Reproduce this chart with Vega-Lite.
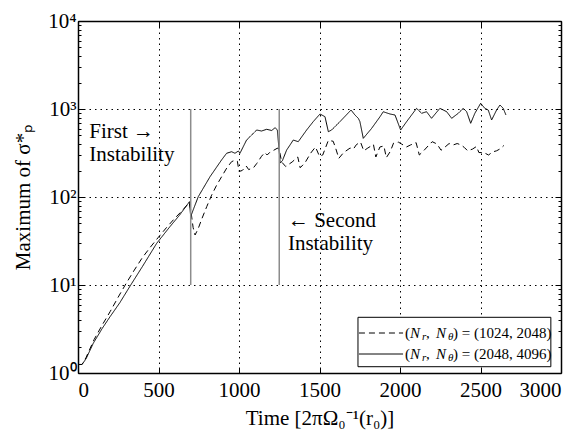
{
  "$schema": "https://vega.github.io/schema/vega-lite/v6.json",
  "width": 483,
  "height": 352,
  "autosize": {"type": "none"},
  "padding": {"left": 78, "top": 21, "right": 26, "bottom": 59},
  "background": "white",
  "config": {
    "font": "Liberation Serif",
    "view": {"stroke": null},
    "axis": {
      "labelFont": "Liberation Serif",
      "titleFont": "Liberation Serif",
      "labelColor": "black",
      "titleColor": "black",
      "titleFontWeight": "normal",
      "domainColor": "black",
      "domainWidth": 1.5,
      "tickColor": "black",
      "tickWidth": 1,
      "labelFontSize": 21,
      "titleFontSize": 21
    }
  },
  "datasets": {
    "series": [
      {"s":"fine","x":0,"y":1.25},{"s":"fine","x":25,"y":1.25},{"s":"fine","x":50,"y":1.45},{"s":"fine","x":95,"y":2.18},{"s":"fine","x":150,"y":3.2},{"s":"fine","x":199,"y":4.36},{"s":"fine","x":260,"y":6.3},{"s":"fine","x":323,"y":9.7},{"s":"fine","x":400,"y":16.2},{"s":"fine","x":489,"y":29.8},{"s":"fine","x":571,"y":46},{"s":"fine","x":630,"y":62},{"s":"fine","x":685,"y":84.8},{"s":"fine","x":692,"y":88.5},{"s":"fine","x":700,"y":60},{"s":"fine","x":720,"y":75},{"s":"fine","x":747,"y":100.8},{"s":"fine","x":820,"y":170},{"s":"fine","x":892,"y":264},{"s":"fine","x":923,"y":314},{"s":"fine","x":954,"y":327},{"s":"fine","x":975,"y":314},{"s":"fine","x":996,"y":333},{"s":"fine","x":1006,"y":314},{"s":"fine","x":1047,"y":444},{"s":"fine","x":1110,"y":577},{"s":"fine","x":1140,"y":562},{"s":"fine","x":1172,"y":588},{"s":"fine","x":1203,"y":570},{"s":"fine","x":1224,"y":613},{"s":"fine","x":1238,"y":580},{"s":"fine","x":1248,"y":357},{"s":"fine","x":1256,"y":243},{"s":"fine","x":1270,"y":260},{"s":"fine","x":1296,"y":342},{"s":"fine","x":1317,"y":390},{"s":"fine","x":1337,"y":444},{"s":"fine","x":1368,"y":425},{"s":"fine","x":1420,"y":577},{"s":"fine","x":1461,"y":718},{"s":"fine","x":1503,"y":877},{"s":"fine","x":1534,"y":818},{"s":"fine","x":1555,"y":552},{"s":"fine","x":1575,"y":577},{"s":"fine","x":1627,"y":718},{"s":"fine","x":1696,"y":974},{"s":"fine","x":1720,"y":855},{"s":"fine","x":1741,"y":784},{"s":"fine","x":1751,"y":718},{"s":"fine","x":1772,"y":464},{"s":"fine","x":1824,"y":603},{"s":"fine","x":1876,"y":818},{"s":"fine","x":1896,"y":931},{"s":"fine","x":1938,"y":877},{"s":"fine","x":1969,"y":855},{"s":"fine","x":2004,"y":577},{"s":"fine","x":2041,"y":718},{"s":"fine","x":2103,"y":1018},{"s":"fine","x":2134,"y":894},{"s":"fine","x":2165,"y":931},{"s":"fine","x":2196,"y":784},{"s":"fine","x":2248,"y":1018},{"s":"fine","x":2290,"y":931},{"s":"fine","x":2321,"y":784},{"s":"fine","x":2362,"y":894},{"s":"fine","x":2393,"y":1018},{"s":"fine","x":2414,"y":931},{"s":"fine","x":2439,"y":688},{"s":"fine","x":2465,"y":894},{"s":"fine","x":2501,"y":1161},{"s":"fine","x":2527,"y":1018},{"s":"fine","x":2548,"y":974},{"s":"fine","x":2569,"y":750},{"s":"fine","x":2600,"y":974},{"s":"fine","x":2621,"y":1110},{"s":"fine","x":2641,"y":1018},{"s":"fine","x":2658,"y":855},
      {"s":"coarse","x":0,"y":1.25},{"s":"coarse","x":25,"y":1.25},{"s":"coarse","x":50,"y":1.5},{"s":"coarse","x":100,"y":2.4},{"s":"coarse","x":150,"y":3.5},{"s":"coarse","x":200,"y":5.0},{"s":"coarse","x":250,"y":7.3},{"s":"coarse","x":300,"y":10.5},{"s":"coarse","x":350,"y":14.8},{"s":"coarse","x":400,"y":20.5},{"s":"coarse","x":450,"y":27},{"s":"coarse","x":500,"y":35},{"s":"coarse","x":550,"y":45},{"s":"coarse","x":600,"y":57},{"s":"coarse","x":650,"y":71},{"s":"coarse","x":690,"y":86},{"s":"coarse","x":700,"y":72},{"s":"coarse","x":715,"y":45},{"s":"coarse","x":727,"y":37},{"s":"coarse","x":745,"y":43},{"s":"coarse","x":770,"y":57},{"s":"coarse","x":800,"y":78},{"s":"coarse","x":830,"y":105},{"s":"coarse","x":860,"y":135},{"s":"coarse","x":892,"y":170},{"s":"coarse","x":925,"y":215},{"s":"coarse","x":954,"y":252},{"s":"coarse","x":975,"y":262},{"s":"coarse","x":990,"y":255},{"s":"coarse","x":1000,"y":195},{"s":"coarse","x":1020,"y":200},{"s":"coarse","x":1045,"y":225},{"s":"coarse","x":1060,"y":205},{"s":"coarse","x":1090,"y":215},{"s":"coarse","x":1110,"y":240},{"s":"coarse","x":1140,"y":290},{"s":"coarse","x":1160,"y":320},{"s":"coarse","x":1175,"y":300},{"s":"coarse","x":1190,"y":320},{"s":"coarse","x":1210,"y":335},{"s":"coarse","x":1240,"y":360},{"s":"coarse","x":1252,"y":330},{"s":"coarse","x":1265,"y":250},{"s":"coarse","x":1290,"y":222},{"s":"coarse","x":1330,"y":250},{"s":"coarse","x":1365,"y":285},{"s":"coarse","x":1380,"y":215},{"s":"coarse","x":1410,"y":245},{"s":"coarse","x":1445,"y":315},{"s":"coarse","x":1475,"y":370},{"s":"coarse","x":1500,"y":290},{"s":"coarse","x":1520,"y":300},{"s":"coarse","x":1555,"y":440},{"s":"coarse","x":1585,"y":430},{"s":"coarse","x":1600,"y":360},{"s":"coarse","x":1620,"y":275},{"s":"coarse","x":1650,"y":320},{"s":"coarse","x":1690,"y":360},{"s":"coarse","x":1710,"y":350},{"s":"coarse","x":1730,"y":395},{"s":"coarse","x":1755,"y":420},{"s":"coarse","x":1775,"y":335},{"s":"coarse","x":1800,"y":360},{"s":"coarse","x":1835,"y":395},{"s":"coarse","x":1850,"y":285},{"s":"coarse","x":1875,"y":370},{"s":"coarse","x":1900,"y":380},{"s":"coarse","x":1915,"y":280},{"s":"coarse","x":1940,"y":330},{"s":"coarse","x":1960,"y":410},{"s":"coarse","x":1990,"y":420},{"s":"coarse","x":2010,"y":400},{"s":"coarse","x":2040,"y":370},{"s":"coarse","x":2065,"y":390},{"s":"coarse","x":2100,"y":415},{"s":"coarse","x":2120,"y":300},{"s":"coarse","x":2150,"y":340},{"s":"coarse","x":2180,"y":390},{"s":"coarse","x":2200,"y":425},{"s":"coarse","x":2230,"y":400},{"s":"coarse","x":2255,"y":340},{"s":"coarse","x":2280,"y":370},{"s":"coarse","x":2305,"y":405},{"s":"coarse","x":2330,"y":390},{"s":"coarse","x":2355,"y":405},{"s":"coarse","x":2380,"y":390},{"s":"coarse","x":2400,"y":365},{"s":"coarse","x":2420,"y":335},{"s":"coarse","x":2450,"y":350},{"s":"coarse","x":2475,"y":375},{"s":"coarse","x":2490,"y":320},{"s":"coarse","x":2520,"y":320},{"s":"coarse","x":2550,"y":300},{"s":"coarse","x":2575,"y":325},{"s":"coarse","x":2600,"y":335},{"s":"coarse","x":2625,"y":355},{"s":"coarse","x":2645,"y":385}
    ],
    "markers": [{"x": 700, "y": 10, "y2": 1000}, {"x": 1250, "y": 10, "y2": 1000}],
    "notes": [
      {"x": 70, "y": 468, "t": "First →"},
      {"x": 70, "y": 256, "t": "Instability"},
      {"x": 1304, "y": 45.6, "t": "← Second"},
      {"x": 1304, "y": 25, "t": "Instability"}
    ],
    "legendBox": [{"x": 1739, "x2": 2937, "y": 4.295, "y2": 1.179}],
    "legendLines": [
      {"s": "coarse", "x": 1745, "x2": 2019, "y": 2.848},
      {"s": "fine", "x": 1745, "x2": 2019, "y": 1.644}
    ],
    "legendText": [
      {"k": "main", "x": 2031, "y": 2.848, "t": "("},
      {"k": "ital", "x": 2062, "y": 2.848, "t": "N"},
      {"k": "sub", "x": 2137, "y": 2.565, "t": "r"},
      {"k": "main", "x": 2161, "y": 2.848, "t": ","},
      {"k": "ital", "x": 2224, "y": 2.848, "t": "N"},
      {"k": "sub", "x": 2298, "y": 2.565, "t": "θ"},
      {"k": "main", "x": 2329, "y": 2.848, "t": ") = (1024, 2048)"},
      {"k": "main", "x": 2031, "y": 1.644, "t": "("},
      {"k": "ital", "x": 2062, "y": 1.644, "t": "N"},
      {"k": "sub", "x": 2137, "y": 1.481, "t": "r"},
      {"k": "main", "x": 2161, "y": 1.644, "t": ","},
      {"k": "ital", "x": 2224, "y": 1.644, "t": "N"},
      {"k": "sub", "x": 2298, "y": 1.481, "t": "θ"},
      {"k": "main", "x": 2329, "y": 1.644, "t": ") = (2048, 4096)"}
    ]
  },
  "resolve": {"axis": {"x": "independent", "y": "independent"}},
  "layer": [
    {
      "data": {"name": "series"},
      "mark": {"type": "line", "color": "black", "strokeWidth": 1},
      "encoding": {
        "x": {
          "field": "x", "type": "quantitative",
          "scale": {"domain": [0, 3000], "nice": false},
          "axis": {
            "orient": "bottom",
            "values": [0, 500, 1000, 1500, 2000, 2500, 3000],
            "format": "d",
            "title": "Time [2πΩ₀⁻¹(r₀)]",
            "titlePadding": 7,
            "labelPadding": 12,
            "tickSize": -6,
            "grid": true, "gridColor": "black", "gridDash": [1.5, 4], "gridWidth": 1, "gridOpacity": 1
          }
        },
        "y": {
          "field": "y", "type": "quantitative",
          "scale": {"type": "log", "domain": [1, 10000], "nice": false},
          "axis": {
            "orient": "left",
            "values": [1,2,3,4,5,6,7,8,9,10,20,30,40,50,60,70,80,90,100,200,300,400,500,600,700,800,900,1000,2000,3000,4000,5000,6000,7000,8000,9000,10000],
            "labelExpr": "datum.value == 1 ? '10⁰' : datum.value == 10 ? '10¹' : datum.value == 100 ? '10²' : datum.value == 1000 ? '10³' : datum.value == 10000 ? '10⁴' : ''",
            "title": "Maximum of σ*ₚ",
            "titlePadding": 14,
            "labelPadding": 8,
            "tickSize": {"condition": {"test": "indexof([1,10,100,1000,10000], datum.value) >= 0", "value": -6}, "value": -3},
            "grid": true, "gridColor": "black", "gridDash": [1.5, 4], "gridWidth": 1,
            "gridOpacity": {"condition": {"test": "indexof([1,10,100,1000,10000], datum.value) >= 0", "value": 1}, "value": 0}
          }
        },
        "strokeDash": {
          "field": "s", "type": "nominal",
          "scale": {"domain": ["coarse", "fine"], "range": [[6, 4], [1, 0]]},
          "legend": null
        }
      }
    },
    {
      "data": {"name": "markers"},
      "mark": {"type": "rule", "color": "#8c8c8c", "strokeWidth": 1.5},
      "encoding": {
        "x": {
          "field": "x", "type": "quantitative",
          "axis": {"orient": "top", "values": [0, 500, 1000, 1500, 2000, 2500, 3000], "labels": false, "title": null, "tickSize": -6, "grid": false}
        },
        "y": {
          "field": "y", "type": "quantitative",
          "axis": {
            "orient": "right",
            "values": [1,2,3,4,5,6,7,8,9,10,20,30,40,50,60,70,80,90,100,200,300,400,500,600,700,800,900,1000,2000,3000,4000,5000,6000,7000,8000,9000,10000],
            "labels": false, "title": null, "grid": false,
            "tickSize": {"condition": {"test": "indexof([1,10,100,1000,10000], datum.value) >= 0", "value": -6}, "value": -3}
          }
        },
        "y2": {"field": "y2"}
      }
    },
    {
      "data": {"name": "notes"},
      "mark": {"type": "text", "align": "left", "baseline": "alphabetic", "fontSize": 21, "font": "Liberation Serif", "color": "black"},
      "encoding": {
        "x": {"field": "x", "type": "quantitative", "axis": null},
        "y": {"field": "y", "type": "quantitative", "axis": null},
        "text": {"field": "t"}
      }
    },
    {
      "data": {"name": "legendBox"},
      "mark": {"type": "rect", "fill": "white", "stroke": "black", "strokeWidth": 1},
      "encoding": {
        "x": {"field": "x", "type": "quantitative", "axis": null},
        "x2": {"field": "x2"},
        "y": {"field": "y", "type": "quantitative", "axis": null},
        "y2": {"field": "y2"}
      }
    },
    {
      "data": {"name": "legendLines"},
      "mark": {"type": "rule", "color": "black", "strokeWidth": 1},
      "encoding": {
        "x": {"field": "x", "type": "quantitative", "axis": null},
        "x2": {"field": "x2"},
        "y": {"field": "y", "type": "quantitative", "axis": null},
        "strokeDash": {"field": "s", "type": "nominal", "legend": null}
      }
    },
    {
      "data": {"name": "legendText"},
      "transform": [{"filter": "datum.k == 'main'"}],
      "mark": {"type": "text", "align": "left", "baseline": "middle", "fontSize": 15, "font": "Liberation Serif", "color": "black"},
      "encoding": {
        "x": {"field": "x", "type": "quantitative", "axis": null},
        "y": {"field": "y", "type": "quantitative", "axis": null},
        "text": {"field": "t"}
      }
    },
    {
      "data": {"name": "legendText"},
      "transform": [{"filter": "datum.k == 'ital'"}],
      "mark": {"type": "text", "align": "left", "baseline": "middle", "fontSize": 15, "fontStyle": "italic", "font": "Liberation Serif", "color": "black"},
      "encoding": {
        "x": {"field": "x", "type": "quantitative", "axis": null},
        "y": {"field": "y", "type": "quantitative", "axis": null},
        "text": {"field": "t"}
      }
    },
    {
      "data": {"name": "legendText"},
      "transform": [{"filter": "datum.k == 'sub'"}],
      "mark": {"type": "text", "align": "left", "baseline": "middle", "fontSize": 11, "fontStyle": "italic", "font": "Liberation Serif", "color": "black"},
      "encoding": {
        "x": {"field": "x", "type": "quantitative", "axis": null},
        "y": {"field": "y", "type": "quantitative", "axis": null},
        "text": {"field": "t"}
      }
    }
  ]
}
